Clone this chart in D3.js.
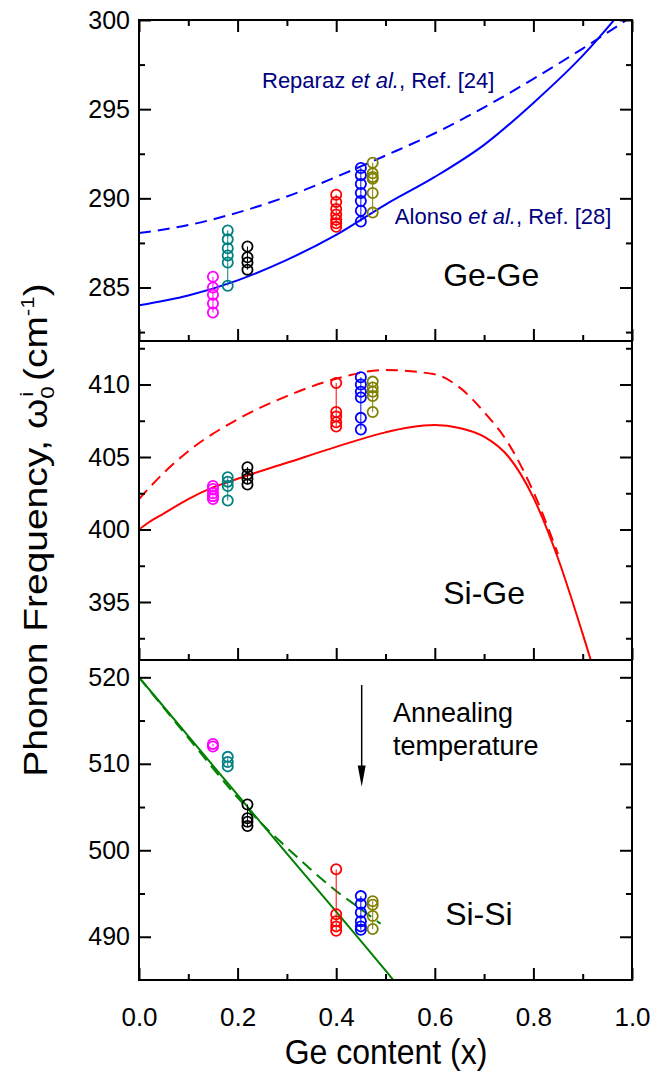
<!DOCTYPE html>
<html>
<head>
<meta charset="utf-8">
<script src="https://cdn.jsdelivr.net/npm/d3@7"></script>
<style>
  body { margin: 0; background: #fff; }
  svg { display: block; font-family: Arial, "Liberation Sans", sans-serif; }
</style>
</head>
<body>
<div id="chart"></div>
<script>
// samples (Ge content) and their colours
const sampleX = [0.15, 0.18, 0.22, 0.40, 0.45, 0.474];
const sampleColors = ["#ff00ff", "#008080", "#000000", "#ff0000", "#0000ff", "#808000"];

// measured frequencies, one list per sample (several annealing temperatures)
const geGePoints = [
  [285.6, 285.0, 284.6, 284.1, 283.6],
  [288.2, 287.7, 287.2, 286.8, 286.4, 285.1],
  [287.3, 286.7, 286.4, 286.0],
  [290.2, 289.8, 289.4, 289.1, 288.8, 288.6, 288.4],
  [291.7, 291.3, 290.8, 290.3, 289.85, 289.3, 288.7],
  [292.0, 291.4, 291.2, 291.1, 290.3, 289.2]
];
const siGePoints = [
  [403.0, 402.8, 402.5, 402.3, 402.1],
  [403.6, 403.3, 403.0, 402.0],
  [404.3, 403.8, 403.5, 403.1],
  [410.1, 408.1, 407.8, 407.4, 407.1],
  [410.5, 410.0, 409.5, 409.1, 407.7, 406.9],
  [410.2, 409.8, 409.5, 409.2, 408.1]
];
const siSiPoints = [
  [512.3, 512.0],
  [510.8, 510.2, 509.7],
  [505.3, 503.7, 503.3, 502.8],
  [497.8, 492.6, 491.8, 491.2, 490.7],
  [494.7, 493.8, 492.8, 491.8, 491.2, 490.8],
  [494.1, 493.7, 492.4, 490.9]
];

// reference curves
const geGeSolidX = [0, 0.1, 0.2, 0.3, 0.4, 0.5, 0.6, 0.7, 0.8, 0.9, 1.0];
const geGeSolidY = [284.0, 284.55, 285.4, 286.55, 287.95, 289.65, 291.2, 293.0, 295.35, 298.0, 301.2];
const geGeDashX = [0, 0.1, 0.2, 0.3, 0.4, 0.5, 0.6, 0.7, 0.8, 0.9, 1.0];
const geGeDashY = [288.05, 288.5, 289.2, 290.1, 291.2, 292.4, 293.65, 295.1, 296.7, 298.4, 300.2];

const siGeSolidX = [0, 0.02, 0.05, 0.1, 0.15, 0.2, 0.3, 0.4, 0.5, 0.55, 0.6, 0.65, 0.7, 0.75, 0.8, 0.85, 0.9, 0.93];
const siGeSolidY = [400.0, 400.5, 401.1, 402.1, 402.9, 403.5, 404.6, 405.7, 406.7, 407.05, 407.2, 407.0, 406.4, 405.0, 402.2, 398.0, 392.8, 389.5];
const siGeDashX = [0, 0.05, 0.1, 0.2, 0.3, 0.4, 0.5, 0.6, 0.65, 0.7, 0.75, 0.8, 0.85];
const siGeDashY = [402.1, 403.9, 405.4, 407.6, 409.2, 410.4, 411.0, 410.7, 409.8, 408.1, 405.9, 402.6, 398.3];

const siSiSolidX = [0, 0.1, 0.2, 0.3, 0.4, 0.5, 0.53];
const siSiSolidY = [520.0, 513.2, 506.4, 499.6, 492.9, 486.1, 484.0];
const siSiDashX = [0, 0.1, 0.2, 0.25, 0.3, 0.35, 0.4, 0.45, 0.49];
const siSiDashY = [520.0, 513.0, 506.1, 503.0, 500.3, 497.7, 495.3, 493.2, 491.5];

// ticks
const xMajor = [0, 0.2, 0.4, 0.6, 0.8, 1.0];
const xMinor = [0.1, 0.3, 0.5, 0.7, 0.9];
const geGeMajor = [285, 290, 295, 300];
const geGeMinor = [282.5, 287.5, 292.5, 297.5];
const siGeMajor = [395, 400, 405, 410];
const siGeMinor = [392.5, 397.5, 402.5, 407.5, 412.5];
const siSiMajor = [490, 500, 510, 520];
const siSiMinor = [495, 505, 515];

const width = 652;
const height = 1075;
const left = 139, right = 632;
const fontFam = "Arial, 'Liberation Sans', sans-serif";

const svg = d3.select("#chart").append("svg")
  .attr("width", width)
  .attr("height", height);

const x = d3.scaleLinear().domain([0, 1]).range([left, right]);

const panels = [
  { label: "Ge-Ge", top: 20, bottom: 341, domain: [282, 300], major: geGeMajor, minor: geGeMinor,
    color: "#0000ff", solid: [geGeSolidX, geGeSolidY], dash: [geGeDashX, geGeDashY], points: geGePoints,
    labelPos: [0.617, 285.08], topTicks: true },
  { label: "Si-Ge", top: 341, bottom: 660, domain: [391, 413], major: siGeMajor, minor: siGeMinor,
    color: "#ff0000", solid: [siGeSolidX, siGeSolidY], dash: [siGeDashX, siGeDashY], points: siGePoints,
    labelPos: [0.617, 394.86], topTicks: false },
  { label: "Si-Si", top: 660, bottom: 980, domain: [485, 522], major: siSiMajor, minor: siSiMinor,
    color: "#008000", solid: [siSiSolidX, siSiSolidY], dash: [siSiDashX, siSiDashY], points: siSiPoints,
    labelPos: [0.621, 491.4], topTicks: false }
];

const majorLen = 12, minorLen = 6;

function styleAxis(g) {
  g.select(".domain").remove();
  g.selectAll(".tick line").attr("stroke", "#000").attr("stroke-width", 2);
  g.selectAll(".tick text").attr("fill", "#000").attr("font-family", fontFam);
}

panels.forEach((p, i) => {
  const y = d3.scaleLinear().domain(p.domain).range([p.bottom, p.top]);
  p.y = y;
  const g = svg.append("g");

  const clipId = "clip" + i;
  svg.append("clipPath").attr("id", clipId)
    .append("rect")
    .attr("x", left).attr("y", p.top)
    .attr("width", right - left).attr("height", p.bottom - p.top);

  // curves
  const line = d3.line().x(d => x(d[0])).y(d => y(d[1])).curve(d3.curveMonotoneX);
  const solidData = p.solid[0].map((v, k) => [v, p.solid[1][k]]);
  const dashData = p.dash[0].map((v, k) => [v, p.dash[1][k]]);
  const curves = g.append("g").attr("clip-path", `url(#${clipId})`);
  curves.append("path").datum(dashData)
    .attr("fill", "none").attr("stroke", p.color).attr("stroke-width", 2)
    .attr("stroke-dasharray", "12,7").attr("d", line);
  curves.append("path").datum(solidData)
    .attr("fill", "none").attr("stroke", p.color).attr("stroke-width", 2)
    .attr("d", line);

  // data points
  p.points.forEach((vals, s) => {
    const pts = vals.map(v => [sampleX[s], v]);
    g.append("path").datum(pts)
      .attr("fill", "none").attr("stroke", sampleColors[s]).attr("stroke-width", 1)
      .attr("d", d3.line().x(d => x(d[0])).y(d => y(d[1])));
    g.selectAll(null).data(pts).join("circle")
      .attr("cx", d => x(d[0])).attr("cy", d => y(d[1]))
      .attr("r", 5.1)
      .attr("fill", "none").attr("stroke", sampleColors[s]).attr("stroke-width", 1.8);
  });

  // axes: left with labels, right ticks only
  g.append("g").attr("transform", `translate(${left},0)`)
    .call(d3.axisLeft(y).tickValues(p.major).tickSize(-majorLen).tickPadding(9).tickFormat(d3.format("d")))
    .call(styleAxis)
    .call(a => a.selectAll(".tick text").attr("font-size", 25));
  g.append("g").attr("transform", `translate(${left},0)`)
    .call(d3.axisLeft(y).tickValues(p.minor).tickSize(-minorLen).tickFormat(""))
    .call(styleAxis);
  g.append("g").attr("transform", `translate(${right},0)`)
    .call(d3.axisRight(y).tickValues(p.major).tickSize(-majorLen).tickFormat(""))
    .call(styleAxis);
  g.append("g").attr("transform", `translate(${right},0)`)
    .call(d3.axisRight(y).tickValues(p.minor).tickSize(-minorLen).tickFormat(""))
    .call(styleAxis);

  // bottom ticks of each panel (labels only on the lowest)
  const last = i === panels.length - 1;
  g.append("g").attr("transform", `translate(0,${p.bottom})`)
    .call(d3.axisBottom(x).tickValues(xMajor).tickSize(-majorLen).tickPadding(28)
      .tickFormat(last ? d3.format(".1f") : ""))
    .call(styleAxis)
    .call(a => a.selectAll(".tick text").attr("font-size", 26));
  g.append("g").attr("transform", `translate(0,${p.bottom})`)
    .call(d3.axisBottom(x).tickValues(xMinor).tickSize(-minorLen).tickFormat(""))
    .call(styleAxis);
  if (p.topTicks) {
    g.append("g").attr("transform", `translate(0,${p.top})`)
      .call(d3.axisTop(x).tickValues(xMajor).tickSize(-majorLen).tickFormat(""))
      .call(styleAxis);
    g.append("g").attr("transform", `translate(0,${p.top})`)
      .call(d3.axisTop(x).tickValues(xMinor).tickSize(-minorLen).tickFormat(""))
      .call(styleAxis);
  }

  // frame
  g.append("rect")
    .attr("x", left).attr("y", p.top)
    .attr("width", right - left).attr("height", p.bottom - p.top)
    .attr("fill", "none").attr("stroke", "#000").attr("stroke-width", 2);

  // panel label
  g.append("text")
    .attr("x", x(p.labelPos[0])).attr("y", y(p.labelPos[1]))
    .attr("font-size", 32).attr("fill", "#000")
    .text(p.label);
});

// annotations in the Ge-Ge panel
const yTop = panels[0].y;
const ref1 = svg.append("text")
  .attr("x", x(0.2495)).attr("y", yTop(296.2))
  .attr("font-size", 22).attr("fill", "#000080");
ref1.append("tspan").text("Reparaz ");
ref1.append("tspan").attr("font-style", "italic").text("et al.");
ref1.append("tspan").text(", Ref. [24]");

const ref2 = svg.append("text")
  .attr("x", x(0.519)).attr("y", yTop(288.55))
  .attr("font-size", 22).attr("fill", "#000080");
ref2.append("tspan").text("Alonso ");
ref2.append("tspan").attr("font-style", "italic").text("et al.");
ref2.append("tspan").text(", Ref. [28]");

// annealing arrow in Si-Si panel
const yBot = panels[2].y;
const ax = x(0.4517);
svg.append("line")
  .attr("x1", ax).attr("x2", ax)
  .attr("y1", yBot(519.1)).attr("y2", yBot(509.5))
  .attr("stroke", "#000").attr("stroke-width", 1.5);
svg.append("path")
  .attr("d", `M${ax - 4},${yBot(509.8)} L${ax + 4},${yBot(509.8)} L${ax},${yBot(507.35)} Z`)
  .attr("fill", "#000");
svg.append("text")
  .attr("x", x(0.515)).attr("y", yBot(514.83))
  .attr("font-size", 27).attr("fill", "#000")
  .text("Annealing");
svg.append("text")
  .attr("x", x(0.515)).attr("y", yBot(511.0))
  .attr("font-size", 27).attr("fill", "#000")
  .text("temperature");

// axis titles
svg.append("text")
  .attr("transform", "translate(386,1064) scale(1,1.1)")
  .attr("text-anchor", "middle")
  .attr("font-size", 32).attr("fill", "#000")
  .text("Ge content (x)");

const yt = svg.append("text")
  .attr("transform", "translate(47,530) rotate(-90) scale(1.18,1)")
  .attr("text-anchor", "middle")
  .attr("font-size", 33).attr("fill", "#000");
yt.append("tspan").text("Phonon Frequency, \u03c9");
yt.append("tspan").attr("font-size", 19).attr("dy", 7).text("0");
yt.append("tspan").attr("font-size", 19).attr("dx", -9).attr("dy", -21).text("i");
yt.append("tspan").attr("dy", 14).text(" (cm");
yt.append("tspan").attr("font-size", 19).attr("dy", -13).text("-1");
yt.append("tspan").attr("dy", 13).text(")");
</script>
</body>
</html>
